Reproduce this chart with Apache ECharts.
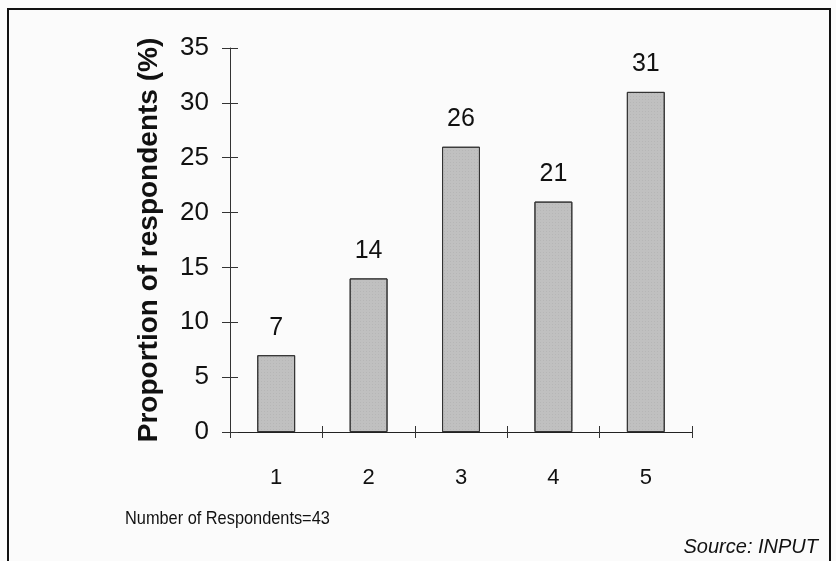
<!DOCTYPE html>
<html><head><meta charset="utf-8">
<script src="https://cdn.jsdelivr.net/npm/echarts@6/dist/echarts.min.js"></script>
<style>html,body{margin:0;padding:0;background:#fbfbfb}#c{width:836px;height:561px}</style>
</head><body><div id="c"></div>
<script>
const categories = ['1', '2', '3', '4', '5'];
const values = [7, 14, 26, 21, 31];
const yTicks = [0, 5, 10, 15, 20, 25, 30, 35];
const yName = 'Proportion of respondents (%)';
const footNote = 'Number of Respondents=43';
const source = 'Source: INPUT';

const font = '"Liberation Sans", Arial, Helvetica, sans-serif';
const chart = echarts.init(document.getElementById('c'));
const grid = { left: 230, right: 144, top: 48, bottom: 129 };
chart.setOption({
  backgroundColor: '#fbfbfb',
  animation: false,
  grid: [grid, grid],
  xAxis: [
    { type: 'category', data: categories, gridIndex: 0,
      axisLine: { lineStyle: { color: '#222', width: 1 } },
      axisTick: { show: true, length: 6, lineStyle: { color: '#333' } },
      axisLabel: { color: '#111', fontSize: 22, fontFamily: font, margin: 35 } },
    { type: 'category', data: categories, gridIndex: 1, position: 'bottom',
      axisLine: { show: false },
      axisTick: { show: true, inside: true, length: 6, lineStyle: { color: '#333' } },
      axisLabel: { show: false } }
  ],
  yAxis: [
    { type: 'value', min: 0, max: 35, interval: 5, gridIndex: 0,
      name: yName, nameLocation: 'middle', nameGap: 67,
      nameTextStyle: { fontSize: 28, fontWeight: 'bold', color: '#111', fontFamily: font },
      axisLine: { show: true, lineStyle: { color: '#333', width: 1 } },
      axisTick: { show: true, length: 8, lineStyle: { color: '#333' } },
      splitLine: { show: false },
      axisLabel: { color: '#111', fontSize: 26, fontFamily: font, margin: 21,
        formatter: v => yTicks.includes(v) ? String(v) : '' } },
    { type: 'value', min: 0, max: 35, interval: 5, gridIndex: 1, position: 'left',
      axisLine: { show: false },
      axisTick: { show: true, inside: true, length: 8, lineStyle: { color: '#333' } },
      splitLine: { show: false }, axisLabel: { show: false } }
  ],
  series: [{
    type: 'bar', data: values, xAxisIndex: 0, yAxisIndex: 0,
    barWidth: '41%',
    itemStyle: { color: '#c0c0c0', borderColor: '#333', borderWidth: 1,
      decal: { symbol: 'rect', symbolSize: 0.5, dashArrayX: [1, 2], dashArrayY: [1, 2], color: 'rgba(90,90,90,0.35)', rotation: 0 } },
    label: { show: true, position: 'top', distance: 15, color: '#111', fontSize: 25, fontFamily: font }
  }],
  graphic: [
    { type: 'rect', shape: { x: 8, y: 9, width: 822, height: 570 },
      style: { fill: 'none', stroke: '#111', lineWidth: 2 }, silent: true },
    { type: 'text', x: 125, y: 509, scaleX: 0.86,
      style: { text: footNote, fontSize: 19, fontFamily: font, fill: '#111' } },
    { type: 'text', right: 18, top: 537,
      style: { text: source, fontSize: 20, fontStyle: 'italic', fontFamily: font, fill: '#111' } }
  ]
});
</script></body></html>
